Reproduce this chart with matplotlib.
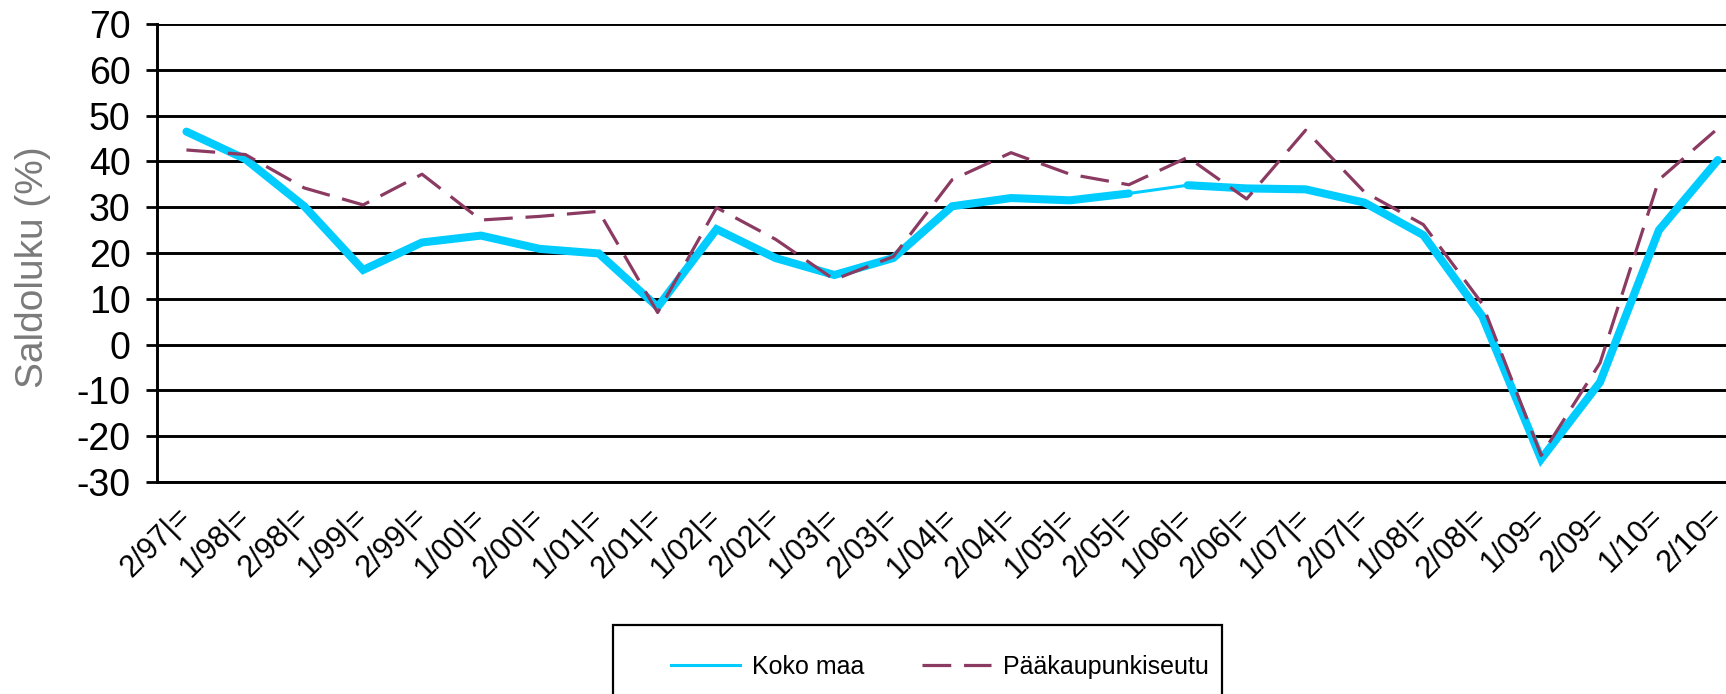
import numpy as np
import matplotlib
matplotlib.use('Agg')
import matplotlib.pyplot as plt
from matplotlib.patches import Rectangle

# Data
kaudet = ['2/97|=', '1/98|=', '2/98|=', '1/99|=', '2/99|=', '1/00|=', '2/00|=',
          '1/01|=', '2/01|=', '1/02|=', '2/02|=', '1/03|=', '2/03|=', '1/04|=',
          '2/04|=', '1/05|=', '2/05|=', '1/06|=', '2/06|=', '1/07|=', '2/07|=',
          '1/08|=', '2/08|=', '1/09=', '2/09=', '1/10=', '2/10=']
koko_maa = [46.5, 40.5, 30.2, 16.3, 22.3, 23.8, 20.9, 19.9, 8.2, 25.2, 18.9,
            15.2, 18.9, 30.2, 32.0, 31.5, 33.0, 34.8, 34.1, 33.9, 31.0, 23.9,
            6.2, -25.0, -8.2, 25.0, 40.3]
paakaupunkiseutu = [42.5, 41.5, 34.2, 30.5, 37.2, 27.2, 28.0, 29.1, 7.0, 29.9,
                    23.0, 14.2, 19.2, 36.0, 41.9, 37.2, 34.9, 40.9, 31.8, 46.8,
                    33.3, 26.2, 8.9, -24.2, -4.0, 36.0, 47.2]
y_ticks = [-30, -20, -10, 0, 10, 20, 30, 40, 50, 60, 70]

plt.rcParams['font.family'] = ['Liberation Sans', 'DejaVu Sans']
plt.rcParams['axes.unicode_minus'] = False

W, H = 1726, 694
fig = plt.figure(figsize=(W / 100, H / 100), dpi=100)

# axes in pixel terms: left 157, top 24, bottom 482, 58.9 px per category
left, top, bottom = 157, 24, 482
step = 58.9
ax = fig.add_axes([left / W, 1 - bottom / H, 27 * step / W, (bottom - top) / H])

x = np.arange(len(kaudet))
cyan = '#00CCFF'
plum = '#8B3A62'

# Koko maa: thick line, except the thin 2/05 - 1/06 segment
ax.plot(x[:17], koko_maa[:17], color=cyan, lw=5.8, solid_joinstyle='miter',
        solid_capstyle='round', zorder=3)
ax.plot(x[16:18], koko_maa[16:18], color=cyan, lw=2.2, zorder=3, label='Koko maa')
ax.plot(x[17:], koko_maa[17:], color=cyan, lw=5.8, solid_joinstyle='miter',
        solid_capstyle='round', zorder=3)

ax.plot(x, paakaupunkiseutu, color=plum, lw=2.3, dashes=(9, 4),
        zorder=4, label='Pääkaupunkiseutu')

ax.set_xlim(-0.5, 26.5)
ax.set_ylim(-30, 70)
ax.set_yticks(y_ticks)
ax.set_xticks(x)
ax.set_xticklabels(kaudet, rotation=45, ha='right', va='center',
                   rotation_mode='anchor', fontsize=22)
ax.tick_params(axis='x', length=0, pad=22)
ax.tick_params(axis='y', length=8, width=2, color='black', labelsize=27, pad=11)

ax.grid(axis='y', color='black', lw=2.1)
ax.set_axisbelow(True)
for s in ['top', 'right']:
    ax.spines[s].set_visible(False)
for s in ['left', 'bottom']:
    ax.spines[s].set_linewidth(2.1)
    ax.spines[s].set_color('black')

fig.text(33 / W, 1 - 267 / H, 'Saldoluku (%)', rotation=90, ha='center',
         va='center', fontsize=28, color='#7a7a7a')

# legend: frame drawn separately, box runs off the bottom of the picture
fig.patches.append(Rectangle((613 / W, -0.05), (1222 - 613) / W,
                             1 - 625 / H + 0.05, transform=fig.transFigure,
                             facecolor='white', edgecolor='black', lw=1.6,
                             zorder=0))
handles, labels = ax.get_legend_handles_labels()
fig.legend(handles, labels, loc='center left',
           bbox_to_anchor=(671 / W, 1 - 667 / H), ncol=2,
           prop={'size': 18},
           frameon=False, handlelength=2.76, handletextpad=0.48,
           columnspacing=2.3, borderpad=0, borderaxespad=0)

fig.savefig('out.png', dpi=100)
